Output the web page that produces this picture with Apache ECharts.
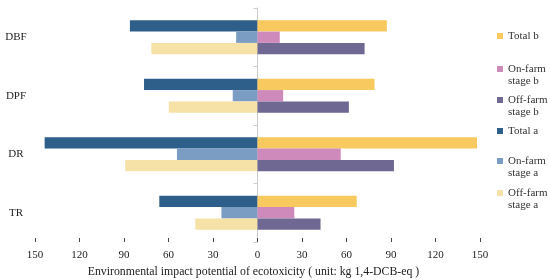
<!doctype html>
<html lang="en">
<head>
    <meta charset="UTF-8">
    <title>Ecotoxicity</title>
    <script src="https://cdn.jsdelivr.net/npm/echarts@6.0.0/dist/echarts.min.js"></script>
    <style>
        html, body { margin: 0; padding: 0; background: #fff; }
        #main { width: 550px; height: 280px; }
    </style>
</head>
<body>
<div id="main"></div>
<script type="text/javascript">
    // categories, top to bottom
    var categories = ['DBF', 'DPF', 'DR', 'TR'];

    // stage a (drawn to the left of zero)
    var totalA = [86, 76.5, 143.5, 66.2];
    var onFarmA = [14.4, 16.7, 54.3, 24.3];
    var offFarmA = [71.6, 59.8, 89.2, 41.9];

    // stage b (drawn to the right of zero)
    var totalB = [87.2, 78.9, 148, 66.9];
    var onFarmB = [15, 17.3, 56.1, 24.8];
    var offFarmB = [72.2, 61.6, 92, 42.5];

    var xTicks = {min: -150, max: 150, step: 30};

    var serif = 'Liberation Serif';

    function neg(arr) {
        return arr.map(function (v) { return -v; });
    }

    function bar(name, data, stack, color) {
        return {
            name: name,
            type: 'bar',
            stack: stack,
            data: data,
            barGap: 0,
            barCategoryGap: '42%',
            itemStyle: {color: color},
            emphasis: {disabled: true}
        };
    }

    // legend items, one legend each so they sit like the original.
    // the blank first line keeps the square level with the first text line
    var legendItems = [
        {name: 'Total b', text: 'Total b', top: 30},
        {name: 'On-farm stage b', text: ' \nOn-farm\nstage b', top: 51},
        {name: 'Off-farm stage b', text: ' \nOff-farm\nstage b', top: 82},
        {name: 'Total a', text: 'Total a', top: 125},
        {name: 'On-farm stage a', text: ' \nOn-farm\nstage a', top: 143},
        {name: 'Off-farm stage a', text: ' \nOff-farm\nstage a', top: 175}
    ];

    var legends = legendItems.map(function (it) {
        return {
            data: [it.name],
            orient: 'vertical',
            left: 497,
            top: it.top,
            padding: 0,
            itemWidth: 6,
            itemHeight: 6,
            icon: 'rect',
            selectedMode: false,
            formatter: function () { return it.text; },
            textStyle: {
                fontFamily: serif,
                fontSize: 11,
                color: '#333',
                lineHeight: 12
            }
        };
    });

    var myChart = echarts.init(document.getElementById('main'));

    var option = {
        backgroundColor: '#fff',
        animation: false,
        legend: legends,
        grid: {
            left: 35,
            right: 70,
            top: 8,
            bottom: 38,
            outerBoundsMode: 'none'
        },
        xAxis: {
            type: 'value',
            min: xTicks.min,
            max: xTicks.max,
            interval: xTicks.step,
            name: 'Environmental impact potential of ecotoxicity ( unit: kg 1,4-DCB-eq )',
            nameLocation: 'middle',
            nameGap: 24,
            nameTextStyle: {fontFamily: serif, fontSize: 11.8, color: '#222', padding: [0, 8, 0, 0]},
            axisLine: {lineStyle: {color: '#444', width: 1}},
            axisTick: {show: true, inside: true, length: 4, lineStyle: {color: '#444'}},
            axisLabel: {
                fontFamily: serif,
                fontSize: 11,
                color: '#222',
                margin: 8,
                formatter: function (v) { return Math.abs(v); }
            },
            splitLine: {show: false}
        },
        yAxis: [
            {
                // centre line at zero with ticks between groups
                type: 'category',
                inverse: true,
                data: categories,
                axisLine: {onZero: true, lineStyle: {color: '#ccc'}},
                axisTick: {show: true, length: 4, lineStyle: {color: '#ccc'}},
                axisLabel: {show: false}
            },
            {
                // labels at the far left
                type: 'category',
                inverse: true,
                position: 'left',
                data: categories,
                axisLine: {show: false, onZero: false},
                axisTick: {show: false},
                axisLabel: {
                    fontFamily: serif,
                    fontSize: 11,
                    color: '#222',
                    margin: 19,
                    align: 'center'
                }
            }
        ],
        series: [
            bar('Total a', neg(totalA), 'row1', '#2e5f8b'),
            bar('Total b', totalB, 'row1', '#f7c95e'),
            bar('On-farm stage a', neg(onFarmA), 'row2', '#7c9dc3'),
            bar('On-farm stage b', onFarmB, 'row2', '#cd8aba'),
            bar('Off-farm stage a', neg(offFarmA), 'row3', '#f6e2a7'),
            bar('Off-farm stage b', offFarmB, 'row3', '#6f6892')
        ]
    };

    myChart.setOption(option);
</script>
</body>
</html>
